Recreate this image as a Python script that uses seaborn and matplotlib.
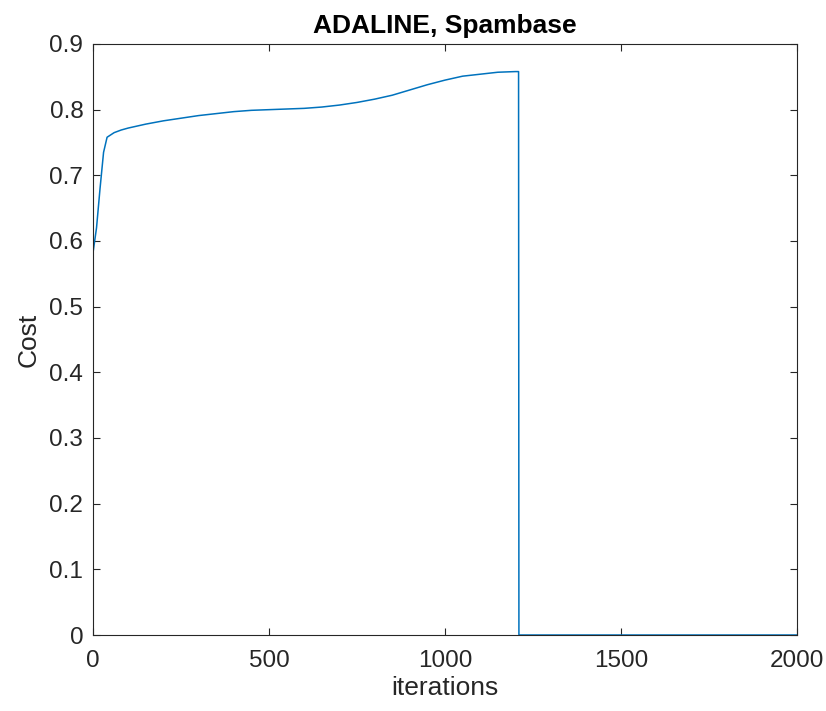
import matplotlib
matplotlib.use("Agg")
import matplotlib.pyplot as plt
import seaborn as sns
import pandas as pd

iterations = [0, 10, 20, 30, 40, 60, 80, 100, 150, 200, 250, 300, 350, 400, 450, 500, 550, 600, 650, 700, 750, 800, 850, 900, 950, 1000, 1050, 1100, 1150, 1200, 1209, 1210, 1500, 2000]
cost = [0.582, 0.62, 0.68, 0.735, 0.758, 0.765, 0.769, 0.772, 0.778, 0.783, 0.787, 0.791, 0.794, 0.797, 0.799, 0.800, 0.801, 0.802, 0.804, 0.807, 0.811, 0.816, 0.822, 0.830, 0.838, 0.845, 0.851, 0.854, 0.857, 0.858, 0.858, 0.0, 0.0, 0.0]
x_ticks = [0, 500, 1000, 1500, 2000]
y_ticks = [0, 0.1, 0.2, 0.3, 0.4, 0.5, 0.6, 0.7, 0.8, 0.9]

sns.set_theme(style="white")
plt.rcParams['font.family'] = ['Liberation Sans', 'DejaVu Sans']

df = pd.DataFrame({"iterations": iterations, "Cost": cost})

fig = plt.figure(figsize=(8.26, 7.11), dpi=100)
ax = fig.add_axes([93/826, 1-635/711, (797-93)/826, (635-44)/711])
sns.lineplot(data=df, x="iterations", y="Cost", ax=ax, color="#0072BD", linewidth=1.1)
ax.set_xlim(0, 2000)
ax.set_ylim(0, 0.9)
ax.set_xticks(x_ticks)
ax.set_xticklabels([str(t) for t in x_ticks])
ax.set_yticks(y_ticks)
ax.set_yticklabels(["0"] + [f"{t:.1f}" for t in y_ticks[1:]])
ax.tick_params(direction="in", length=5, width=0.8, colors="#262626", labelsize=17.5,
               top=True, right=True, bottom=True, left=True, labelcolor="#262626")
ax.tick_params(axis="x", pad=11)
ax.tick_params(axis="y", pad=7)
for s in ax.spines.values():
    s.set_color("#262626")
    s.set_linewidth(0.8)
ax.set_xlabel("iterations", fontsize=19, color="#262626", labelpad=3)
ax.set_ylabel("Cost", fontsize=19, color="#262626", labelpad=6)
ax.set_title("ADALINE, Spambase", fontsize=19, fontweight="bold", color="black", pad=8)
fig.savefig("out.png", dpi=100)
